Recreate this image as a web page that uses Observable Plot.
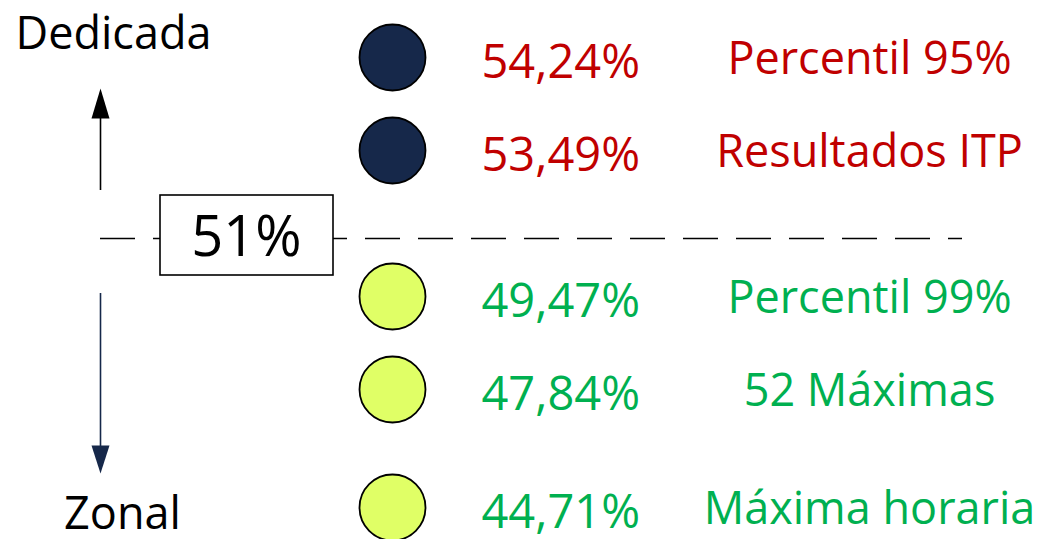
<!DOCTYPE html>
<html>
<head>
<meta charset="utf-8">
<script src="https://cdn.jsdelivr.net/npm/d3@7"></script>
<script src="https://cdn.jsdelivr.net/npm/@observablehq/plot@0.6"></script>
<style>
  html, body { margin: 0; padding: 0; background: #fff; }
  #chart svg { display: block; }
</style>
</head>
<body>
<div id="chart"></div>
<script>
// ---- data ----
const values = [54.24, 53.49, 49.47, 47.84, 44.71];
const labels = ["Percentil 95%", "Resultados ITP", "Percentil 99%", "52 Máximas", "Máxima horaria"];
const threshold = 51;
const topLabel = "Dedicada";
const bottomLabel = "Zonal";

// ---- layout (scale configuration) ----
const W = 1043, H = 539;
const yDomain = [56, values[0], values[1], threshold, values[2], values[3], values[4], 43.5];
const yRange  = [0, 57, 150, 238, 296, 389, 507, 539];
const yPx = d3.scaleLinear().domain(yDomain).range(yRange);
const yv = px => yPx.invert(px);

const colMarker = 392, colValue = 481, colLabel = 869, colArrow = 100;

const RED = "#C00000", GREEN = "#00B050", NAVY = "#16284A", YELLOW = "#E0FF66";
const FONT = "'Open Sans', sans-serif";

const rows = values.map((v, i) => ({value: v, label: labels[i], above: v > threshold}));
const fmt = v => v.toFixed(2).replace(".", ",") + "%";

const triUp = {draw(ctx) { ctx.moveTo(0, -15); ctx.lineTo(9, 15); ctx.lineTo(-9, 15); ctx.closePath(); }};
const triDown = {draw(ctx) { ctx.moveTo(0, 14); ctx.lineTo(9, -14); ctx.lineTo(-9, -14); ctx.closePath(); }};

const chart = Plot.plot({
  width: W, height: H,
  margin: 0,
  style: {fontFamily: FONT, background: "#fff"},
  x: {type: "linear", domain: [0, W], range: [0, W], axis: null},
  y: {type: "linear", domain: yDomain, range: yRange, axis: null},
  marks: [
    // threshold dashed line
    Plot.ruleY([threshold], {x1: 100, x2: 962, stroke: "#000", strokeWidth: 1.6, strokeDasharray: "35,18"}),
    // threshold box
    Plot.rect([threshold], {x1: 160, x2: 333, y1: yv(195), y2: yv(275), fill: "#fff", stroke: "#000", strokeWidth: 1.6}),
    Plot.text([threshold], {x: 246, y: d => d, text: d => `${d}%`, fontSize: 56, fill: "#000", dy: 0}),
    // up arrow
    Plot.ruleX([colArrow], {y1: yv(190), y2: yv(116), stroke: "#000", strokeWidth: 1.6}),
    Plot.dot([colArrow], {x: d => d, y: yv(103), symbol: triUp, fill: "#000", stroke: null}),
    // down arrow
    Plot.ruleX([colArrow], {y1: yv(293), y2: yv(447), stroke: NAVY, strokeWidth: 1.6}),
    Plot.dot([colArrow], {x: d => d, y: yv(459), symbol: triDown, fill: NAVY, stroke: null}),
    // axis end labels
    Plot.text([topLabel], {x: 113, y: yv(34), text: d => d, fontSize: 45, fill: "#000"}),
    Plot.text([bottomLabel], {x: 122, y: yv(514), text: d => d, fontSize: 45, fill: "#000"}),
    // circles
    Plot.dot(rows, {x: colMarker, y: "value", r: 33, fill: d => d.above ? NAVY : YELLOW, stroke: "#000", strokeWidth: 1.8}),
    // values
    Plot.text(rows, {x: colValue, y: "value", text: d => fmt(d.value), textAnchor: "start", fontSize: 47, dy: 5,
      fill: d => d.above ? RED : GREEN}),
    // labels
    Plot.text(rows, {x: colLabel, y: "value", text: "label", textAnchor: "middle", fontSize: 45, dy: 2,
      fill: d => d.above ? RED : GREEN})
  ]
});
document.getElementById("chart").appendChild(chart);
</script>
</body>
</html>
